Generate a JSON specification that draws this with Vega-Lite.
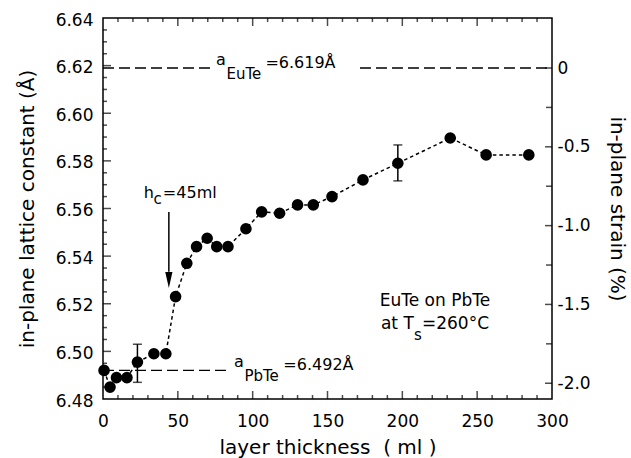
{
  "$schema": "https://vega.github.io/schema/vega-lite/v6.json",
  "width": 449,
  "height": 381,
  "autosize": {"type": "none"},
  "padding": {"left": 103, "top": 18, "right": 79, "bottom": 59},
  "background": "white",
  "config": {
    "view": {"stroke": "black", "strokeWidth": 1.5},
    "font": "DejaVu Sans",
    "axis": {
      "grid": false, "domain": false,
      "labelColor": "black", "titleColor": "black",
      "labelFont": "DejaVu Sans", "titleFont": "DejaVu Sans",
      "labelFontSize": 17, "titleFontSize": 20, "titleFontWeight": "normal",
      "labelFlush": false, "labelOverlap": false
    },
    "text": {"font": "DejaVu Sans", "color": "black"}
  },
  "datasets": {
    "pts": [
      {"t": 0.7, "a": 6.492}, {"t": 4.7, "a": 6.485}, {"t": 9, "a": 6.489}, {"t": 16, "a": 6.489},
      {"t": 23, "a": 6.4955}, {"t": 34, "a": 6.499}, {"t": 42, "a": 6.499}, {"t": 48.5, "a": 6.523},
      {"t": 56, "a": 6.537}, {"t": 62.5, "a": 6.544}, {"t": 69.6, "a": 6.5475}, {"t": 76, "a": 6.544},
      {"t": 83.5, "a": 6.544}, {"t": 95.5, "a": 6.5515}, {"t": 106, "a": 6.5586}, {"t": 118, "a": 6.558},
      {"t": 130, "a": 6.5615}, {"t": 140.5, "a": 6.5615}, {"t": 153, "a": 6.565}, {"t": 173.7, "a": 6.572},
      {"t": 197, "a": 6.579}, {"t": 232, "a": 6.5896}, {"t": 256, "a": 6.5825}, {"t": 284.5, "a": 6.5825}
    ],
    "err": [{"t": 23, "lo": 6.487, "hi": 6.503}, {"t": 197, "lo": 6.5716, "hi": 6.5867}],
    "refs": [
      {"t1": 0, "t2": 72.2, "a": 6.619},
      {"t1": 171.7, "t2": 300, "a": 6.619},
      {"t1": 0, "t2": 82.8, "a": 6.492}
    ],
    "txt": [
      {"t": 75.5, "a": 6.619, "label": "a", "role": "pre"},
      {"t": 82.5, "a": 6.619, "label": "EuTe", "role": "sub"},
      {"t": 108.5, "a": 6.619, "label": "=6.619Å", "role": "main"},
      {"t": 87.5, "a": 6.492, "label": "a", "role": "pre"},
      {"t": 94.5, "a": 6.492, "label": "PbTe", "role": "sub"},
      {"t": 120.5, "a": 6.492, "label": "=6.492Å", "role": "main"},
      {"t": 27.2, "a": 6.5644, "label": "h", "role": "main"},
      {"t": 33.8, "a": 6.5665, "label": "c", "role": "sub"},
      {"t": 40.0, "a": 6.5644, "label": "=45ml", "role": "main"},
      {"t": 185.7, "a": 6.5094, "label": "at T", "role": "note"},
      {"t": 207.8, "a": 6.5094, "label": "s", "role": "sub"},
      {"t": 213.1, "a": 6.5094, "label": "=260°C", "role": "note"},
      {"t": 221.8, "a": 6.519, "label": "EuTe on PbTe", "role": "center"}
    ],
    "arrow": [{"t": 44, "top": 6.5585, "bot": 6.5334, "tip": 6.53}],
    "strain": [{"t": 0, "s": -2}, {"t": 300, "s": 0}],
    "xmaj": [{"v": 50}, {"v": 100}, {"v": 150}, {"v": 200}, {"v": 250}],
    "xmin": [{"v": 10}, {"v": 20}, {"v": 30}, {"v": 40}, {"v": 60}, {"v": 70}, {"v": 80}, {"v": 90},
      {"v": 110}, {"v": 120}, {"v": 130}, {"v": 140}, {"v": 160}, {"v": 170}, {"v": 180}, {"v": 190},
      {"v": 210}, {"v": 220}, {"v": 230}, {"v": 240}, {"v": 260}, {"v": 270}, {"v": 280}, {"v": 290}],
    "ymaj": [{"v": 6.5}, {"v": 6.52}, {"v": 6.54}, {"v": 6.56}, {"v": 6.58}, {"v": 6.6}, {"v": 6.62}],
    "ymin": [{"v": 6.485}, {"v": 6.49}, {"v": 6.495}, {"v": 6.505}, {"v": 6.51}, {"v": 6.515}, {"v": 6.525}, {"v": 6.53},
      {"v": 6.535}, {"v": 6.545}, {"v": 6.55}, {"v": 6.555}, {"v": 6.565}, {"v": 6.57}, {"v": 6.575}, {"v": 6.585},
      {"v": 6.59}, {"v": 6.595}, {"v": 6.605}, {"v": 6.61}, {"v": 6.615}, {"v": 6.625}, {"v": 6.63}, {"v": 6.635}],
    "smaj": [{"v": -2}, {"v": -1.5}, {"v": -1}, {"v": -0.5}, {"v": 0}],
    "smin": [{"v": -1.75}, {"v": -1.25}, {"v": -0.75}, {"v": -0.25}]
  },
  "layer": [
    {
      "data": {"name": "pts"},
      "mark": {"type": "line", "color": "black", "strokeWidth": 1.5, "strokeDash": [3.5, 3]},
      "encoding": {
        "x": {"field": "t", "type": "quantitative", "scale": {"domain": [0, 300], "nice": false, "zero": false},
          "axis": {"orient": "bottom", "values": [0, 50, 100, 150, 200, 250, 300], "ticks": false, "labelPadding": 14,
            "title": "layer thickness\u00a0\u00a0(\u00a0ml\u00a0)", "titlePadding": 8}},
        "y": {"field": "a", "type": "quantitative", "scale": {"domain": [6.48, 6.64], "nice": false, "zero": false},
          "axis": {"orient": "left", "values": [6.48, 6.5, 6.52, 6.54, 6.56, 6.58, 6.6, 6.62, 6.64], "format": ".2f",
            "ticks": false, "labelPadding": 10, "labelOffset": 2,
            "title": "in-plane lattice constant (Å)", "titlePadding": 18}}
      }
    },
    {
      "data": {"name": "strain"},
      "mark": {"type": "point", "opacity": 0},
      "encoding": {
        "x": {"field": "t", "type": "quantitative", "scale": {"domain": [0, 300], "nice": false, "zero": false}, "axis": null},
        "y": {"field": "s", "type": "quantitative", "scale": {"domain": [-2.1, 0.3173], "nice": false, "zero": false},
          "axis": {"orient": "right", "values": [-2, -1.5, -1, -0.5, 0], "ticks": false, "labelPadding": 5,
            "labelExpr": "datum.value == 0 ? '0' : '-' + format(abs(datum.value), '.1f')",
            "title": "in-plane strain (%)", "titlePadding": 16}}
      }
    },
    {
      "data": {"name": "xmaj"},
      "mark": {"type": "tick", "orient": "vertical", "size": 16, "thickness": 1.5, "color": "black", "clip": true},
      "encoding": {
        "x": {"field": "v", "type": "quantitative", "scale": {"domain": [0, 300], "nice": false, "zero": false}, "axis": null},
        "y": {"datum": 6.48, "type": "quantitative", "scale": {"domain": [6.48, 6.64], "nice": false, "zero": false}, "axis": null}
      }
    },
    {
      "data": {"name": "xmaj"},
      "mark": {"type": "tick", "orient": "vertical", "size": 16, "thickness": 1.5, "color": "black", "clip": true},
      "encoding": {
        "x": {"field": "v", "type": "quantitative", "scale": {"domain": [0, 300], "nice": false, "zero": false}, "axis": null},
        "y": {"datum": 6.64, "type": "quantitative", "scale": {"domain": [6.48, 6.64], "nice": false, "zero": false}, "axis": null}
      }
    },
    {
      "data": {"name": "xmin"},
      "mark": {"type": "tick", "orient": "vertical", "size": 8, "thickness": 1.5, "color": "black", "clip": true},
      "encoding": {
        "x": {"field": "v", "type": "quantitative", "scale": {"domain": [0, 300], "nice": false, "zero": false}, "axis": null},
        "y": {"datum": 6.48, "type": "quantitative", "scale": {"domain": [6.48, 6.64], "nice": false, "zero": false}, "axis": null}
      }
    },
    {
      "data": {"name": "xmin"},
      "mark": {"type": "tick", "orient": "vertical", "size": 8, "thickness": 1.5, "color": "black", "clip": true},
      "encoding": {
        "x": {"field": "v", "type": "quantitative", "scale": {"domain": [0, 300], "nice": false, "zero": false}, "axis": null},
        "y": {"datum": 6.64, "type": "quantitative", "scale": {"domain": [6.48, 6.64], "nice": false, "zero": false}, "axis": null}
      }
    },
    {
      "data": {"name": "ymaj"},
      "mark": {"type": "tick", "orient": "horizontal", "size": 16, "thickness": 1.5, "color": "black", "clip": true},
      "encoding": {
        "x": {"datum": 0, "type": "quantitative", "scale": {"domain": [0, 300], "nice": false, "zero": false}, "axis": null},
        "y": {"field": "v", "type": "quantitative", "scale": {"domain": [6.48, 6.64], "nice": false, "zero": false}, "axis": null}
      }
    },
    {
      "data": {"name": "ymin"},
      "mark": {"type": "tick", "orient": "horizontal", "size": 8, "thickness": 1.5, "color": "black", "clip": true},
      "encoding": {
        "x": {"datum": 0, "type": "quantitative", "scale": {"domain": [0, 300], "nice": false, "zero": false}, "axis": null},
        "y": {"field": "v", "type": "quantitative", "scale": {"domain": [6.48, 6.64], "nice": false, "zero": false}, "axis": null}
      }
    },
    {
      "data": {"name": "smaj"},
      "mark": {"type": "tick", "orient": "horizontal", "size": 14, "thickness": 1.5, "color": "black", "clip": true},
      "encoding": {
        "x": {"datum": 300, "type": "quantitative", "scale": {"domain": [0, 300], "nice": false, "zero": false}, "axis": null},
        "y": {"field": "v", "type": "quantitative", "scale": {"domain": [-2.1, 0.3173], "nice": false, "zero": false}, "axis": null}
      }
    },
    {
      "data": {"name": "smin"},
      "mark": {"type": "tick", "orient": "horizontal", "size": 12, "thickness": 1.5, "color": "black", "clip": true},
      "encoding": {
        "x": {"datum": 300, "type": "quantitative", "scale": {"domain": [0, 300], "nice": false, "zero": false}, "axis": null},
        "y": {"field": "v", "type": "quantitative", "scale": {"domain": [-2.1, 0.3173], "nice": false, "zero": false}, "axis": null}
      }
    },
    {
      "data": {"name": "pts"},
      "mark": {"type": "point", "filled": true, "color": "black", "size": 135, "opacity": 1},
      "encoding": {
        "x": {"field": "t", "type": "quantitative", "scale": {"domain": [0, 300], "nice": false, "zero": false}, "axis": null},
        "y": {"field": "a", "type": "quantitative", "scale": {"domain": [6.48, 6.64], "nice": false, "zero": false}, "axis": null}
      }
    },
    {
      "data": {"name": "err"},
      "mark": {"type": "rule", "color": "black", "strokeWidth": 1.5},
      "encoding": {
        "x": {"field": "t", "type": "quantitative", "scale": {"domain": [0, 300], "nice": false, "zero": false}, "axis": null},
        "y": {"field": "lo", "type": "quantitative", "scale": {"domain": [6.48, 6.64], "nice": false, "zero": false}, "axis": null},
        "y2": {"field": "hi"}
      }
    },
    {
      "data": {"name": "err"},
      "mark": {"type": "tick", "orient": "horizontal", "color": "black", "size": 9, "thickness": 1.5},
      "encoding": {
        "x": {"field": "t", "type": "quantitative", "scale": {"domain": [0, 300], "nice": false, "zero": false}, "axis": null},
        "y": {"field": "lo", "type": "quantitative", "scale": {"domain": [6.48, 6.64], "nice": false, "zero": false}, "axis": null}
      }
    },
    {
      "data": {"name": "err"},
      "mark": {"type": "tick", "orient": "horizontal", "color": "black", "size": 9, "thickness": 1.5},
      "encoding": {
        "x": {"field": "t", "type": "quantitative", "scale": {"domain": [0, 300], "nice": false, "zero": false}, "axis": null},
        "y": {"field": "hi", "type": "quantitative", "scale": {"domain": [6.48, 6.64], "nice": false, "zero": false}, "axis": null}
      }
    },
    {
      "data": {"name": "refs"},
      "mark": {"type": "rule", "color": "black", "strokeWidth": 1.3, "strokeDash": [11, 5]},
      "encoding": {
        "x": {"field": "t1", "type": "quantitative", "scale": {"domain": [0, 300], "nice": false, "zero": false}, "axis": null},
        "x2": {"field": "t2"},
        "y": {"field": "a", "type": "quantitative", "scale": {"domain": [6.48, 6.64], "nice": false, "zero": false}, "axis": null}
      }
    },
    {
      "data": {"name": "txt"},
      "transform": [{"filter": "datum.role == 'main'"}],
      "mark": {"type": "text", "align": "left", "baseline": "alphabetic", "fontSize": 16},
      "encoding": {
        "x": {"field": "t", "type": "quantitative", "scale": {"domain": [0, 300], "nice": false, "zero": false}, "axis": null},
        "y": {"field": "a", "type": "quantitative", "scale": {"domain": [6.48, 6.64], "nice": false, "zero": false}, "axis": null},
        "text": {"field": "label"}
      }
    },
    {
      "data": {"name": "txt"},
      "transform": [{"filter": "datum.role == 'note'"}],
      "mark": {"type": "text", "align": "left", "baseline": "alphabetic", "fontSize": 17},
      "encoding": {
        "x": {"field": "t", "type": "quantitative", "scale": {"domain": [0, 300], "nice": false, "zero": false}, "axis": null},
        "y": {"field": "a", "type": "quantitative", "scale": {"domain": [6.48, 6.64], "nice": false, "zero": false}, "axis": null},
        "text": {"field": "label"}
      }
    },
    {
      "data": {"name": "txt"},
      "transform": [{"filter": "datum.role == 'pre'"}],
      "mark": {"type": "text", "align": "left", "baseline": "alphabetic", "fontSize": 16, "dy": -3},
      "encoding": {
        "x": {"field": "t", "type": "quantitative", "scale": {"domain": [0, 300], "nice": false, "zero": false}, "axis": null},
        "y": {"field": "a", "type": "quantitative", "scale": {"domain": [6.48, 6.64], "nice": false, "zero": false}, "axis": null},
        "text": {"field": "label"}
      }
    },
    {
      "data": {"name": "txt"},
      "transform": [{"filter": "datum.role == 'sub'"}],
      "mark": {"type": "text", "align": "left", "baseline": "alphabetic", "fontSize": 15, "dy": 11},
      "encoding": {
        "x": {"field": "t", "type": "quantitative", "scale": {"domain": [0, 300], "nice": false, "zero": false}, "axis": null},
        "y": {"field": "a", "type": "quantitative", "scale": {"domain": [6.48, 6.64], "nice": false, "zero": false}, "axis": null},
        "text": {"field": "label"}
      }
    },
    {
      "data": {"name": "txt"},
      "transform": [{"filter": "datum.role == 'center'"}],
      "mark": {"type": "text", "align": "center", "baseline": "alphabetic", "fontSize": 17},
      "encoding": {
        "x": {"field": "t", "type": "quantitative", "scale": {"domain": [0, 300], "nice": false, "zero": false}, "axis": null},
        "y": {"field": "a", "type": "quantitative", "scale": {"domain": [6.48, 6.64], "nice": false, "zero": false}, "axis": null},
        "text": {"field": "label"}
      }
    },
    {
      "data": {"name": "arrow"},
      "mark": {"type": "rule", "color": "black", "strokeWidth": 1.5},
      "encoding": {
        "x": {"field": "t", "type": "quantitative", "scale": {"domain": [0, 300], "nice": false, "zero": false}, "axis": null},
        "y": {"field": "top", "type": "quantitative", "scale": {"domain": [6.48, 6.64], "nice": false, "zero": false}, "axis": null},
        "y2": {"field": "bot"}
      }
    },
    {
      "data": {"name": "arrow"},
      "mark": {"type": "point", "shape": "M-0.45,-1L0.45,-1L0,1Z", "filled": true, "color": "black", "size": 256, "opacity": 1},
      "encoding": {
        "x": {"field": "t", "type": "quantitative", "scale": {"domain": [0, 300], "nice": false, "zero": false}, "axis": null},
        "y": {"field": "tip", "type": "quantitative", "scale": {"domain": [6.48, 6.64], "nice": false, "zero": false}, "axis": null}
      }
    }
  ],
  "resolve": {"scale": {"x": "independent", "y": "independent"}}
}
